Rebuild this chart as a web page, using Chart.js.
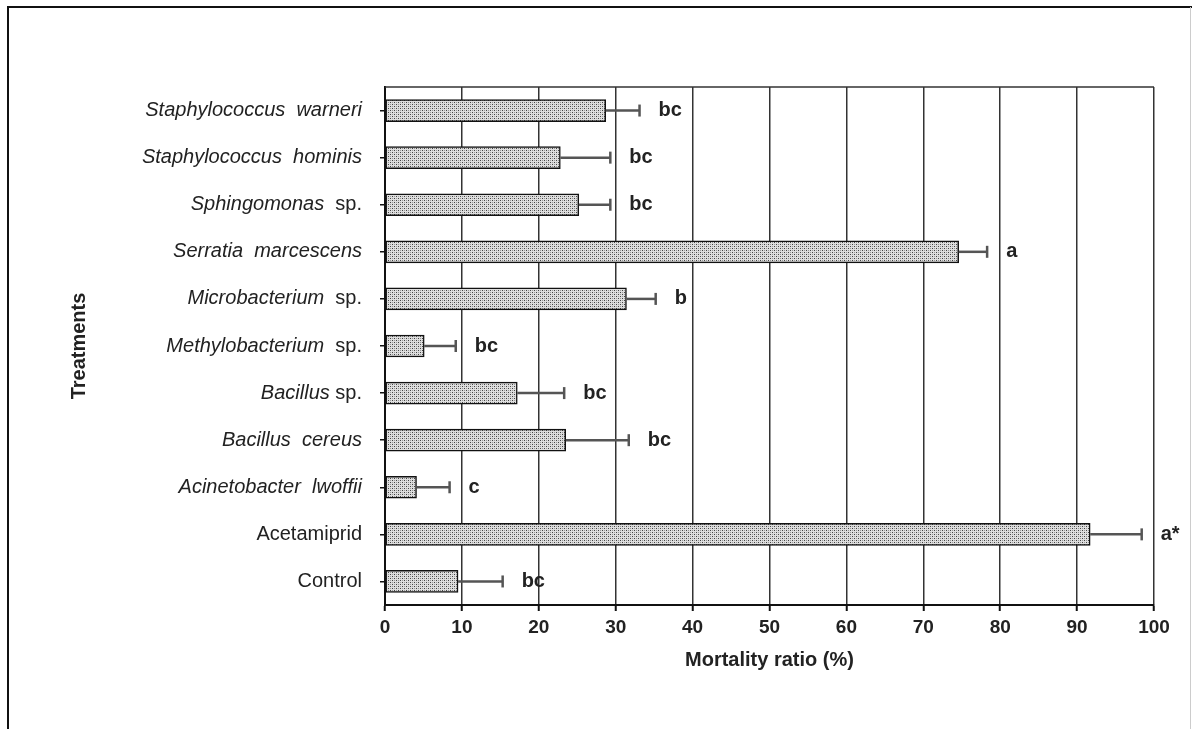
<!DOCTYPE html>
<html><head><meta charset="utf-8">
<script src="https://cdn.jsdelivr.net/npm/chart.js@4.4.1/dist/chart.umd.min.js"></script>
<style>html,body{margin:0;padding:0;background:#fff;} canvas{display:block;}</style>
</head><body>
<canvas id="c" width="1194" height="729" style="width:1194px;height:729px"></canvas>
<script>
// ---- data (top to bottom) ----
const italicParts = ["Staphylococcus  warneri", "Staphylococcus  hominis", "Sphingomonas", "Serratia  marcescens",
  "Microbacterium", "Methylobacterium", "Bacillus", "Bacillus  cereus", "Acinetobacter  lwoffii", "", ""];
const plainParts = ["", "", "  sp.", "", "  sp.", "  sp.", " sp.", "", "", "Acetamiprid", "Control"];
const categories = italicParts.map((t, i) => t + plainParts[i]);
const mortality = [28.7, 22.8, 25.2, 74.6, 31.4, 5.1, 17.2, 23.5, 4.1, 91.7, 9.5];
const errors = [4.4, 6.5, 4.1, 3.7, 3.8, 4.1, 6.1, 8.2, 4.3, 6.7, 5.8];
const letters = ["bc", "bc", "bc", "a", "b", "bc", "bc", "bc", "c", "a*", "bc"];
const xTicks = [0, 10, 20, 30, 40, 50, 60, 70, 80, 90, 100];

const FONT = '"Liberation Sans", Arial, sans-serif';

// stipple pattern for bars
function makePattern() {
  const p = document.createElement('canvas');
  p.width = 4; p.height = 4;
  const g = p.getContext('2d');
  g.fillStyle = '#dedede'; g.fillRect(0, 0, 4, 4);
  g.fillStyle = '#444'; g.fillRect(0, 0, 1, 1); g.fillRect(2, 2, 1, 1);
  g.fillStyle = '#999'; g.fillRect(2, 0, 1, 1); g.fillRect(0, 2, 1, 1);
  return document.getElementById('c').getContext('2d').createPattern(p, 'repeat');
}

const framePlugin = {
  id: 'frame',
  beforeDraw(chart) {
    const ctx = chart.ctx;
    ctx.save();
    ctx.fillStyle = '#fff';
    ctx.fillRect(0, 0, chart.width, chart.height);
    ctx.strokeStyle = '#111';
    ctx.lineWidth = 2;
    ctx.beginPath();
    ctx.moveTo(8, 729); ctx.lineTo(8, 7); ctx.lineTo(1192, 7);
    ctx.stroke();
    ctx.strokeStyle = '#ccc'; ctx.lineWidth = 1;
    ctx.beginPath(); ctx.moveTo(1190.5, 7); ctx.lineTo(1190.5, 729); ctx.stroke();
    ctx.restore();
  },
  afterDatasetsDraw(chart) {
    const ctx = chart.ctx;
    const xs = chart.scales.x, ys = chart.scales.y;
    const a = chart.chartArea;
    ctx.save();
    // top border of plot
    ctx.strokeStyle = '#333'; ctx.lineWidth = 1.5;
    ctx.beginPath(); ctx.moveTo(a.left, a.top); ctx.lineTo(a.right, a.top); ctx.stroke();
    // error bars + letters
    mortality.forEach((v, i) => {
      const py = ys.getPixelForValue(i);
      const x0 = xs.getPixelForValue(v);
      const x1 = xs.getPixelForValue(v + errors[i]);
      ctx.strokeStyle = '#555'; ctx.lineWidth = 2.5;
      ctx.beginPath(); ctx.moveTo(x0, py); ctx.lineTo(x1, py); ctx.stroke();
      ctx.beginPath(); ctx.moveTo(x1, py - 6); ctx.lineTo(x1, py + 6); ctx.stroke();
      ctx.fillStyle = '#222';
      ctx.font = 'bold 20px ' + FONT;
      ctx.textAlign = 'left'; ctx.textBaseline = 'middle';
      ctx.fillText(letters[i], x1 + 19, py);
    });
    // y tick labels with mixed italic / roman
    const xr = a.left - 23;
    categories.forEach((c, i) => {
      const py = ys.getPixelForValue(i);
      ctx.textBaseline = 'middle'; ctx.textAlign = 'left';
      ctx.fillStyle = '#222';
      ctx.font = 'italic 20px ' + FONT;
      const wI = ctx.measureText(italicParts[i]).width;
      ctx.font = '20px ' + FONT;
      const wP = ctx.measureText(plainParts[i]).width;
      const x = xr - wI - wP;
      ctx.font = 'italic 20px ' + FONT;
      ctx.fillText(italicParts[i], x, py);
      ctx.font = '20px ' + FONT;
      ctx.fillText(plainParts[i], x + wI, py);
    });
    ctx.restore();
  }
};

new Chart(document.getElementById('c'), {
  type: 'bar',
  data: {
    labels: categories,
    datasets: [{
      data: mortality,
      backgroundColor: makePattern(),
      borderColor: '#111',
      borderWidth: 1.5,
      borderSkipped: false,
      barThickness: 22
    }]
  },
  options: {
    indexAxis: 'y',
    responsive: false,
    devicePixelRatio: 1,
    animation: false,
    layout: { padding: { top: 87, right: 40, left: 0, bottom: 0 } },
    plugins: { legend: { display: false }, tooltip: { enabled: false } },
    scales: {
      x: {
        type: 'linear', min: 0, max: 100,
        afterBuildTicks(s) { s.ticks = xTicks.map(v => ({ value: v })); },
        afterFit(s) { s.height = 124; },
        grid: { color: '#333', lineWidth: 1.5, tickLength: 6, tickColor: '#111', tickWidth: 2 },
        border: { color: '#111', width: 2 },
        ticks: { color: '#222', font: { family: FONT, size: 19, weight: 'bold' }, padding: 5, maxRotation: 0 },
        title: { display: true, text: 'Mortality ratio (%)', color: '#222',
          font: { family: FONT, size: 20, weight: 'bold' }, padding: { top: 0, bottom: 57 } }
      },
      y: {
        afterFit(s) { s.width = 385; },
        grid: { display: true, drawOnChartArea: false, offset: false, tickLength: 5, color: '#111', lineWidth: 1.5 },
        border: { color: '#111', width: 2 },
        ticks: { color: 'rgba(0,0,0,0)', font: { family: FONT, size: 20 } },
        title: { display: true, text: 'Treatments', color: '#222',
          font: { family: FONT, size: 20, weight: 'bold' }, padding: { top: 67, bottom: 0 } }
      }
    }
  },
  plugins: [framePlugin]
});
</script>
</body></html>
